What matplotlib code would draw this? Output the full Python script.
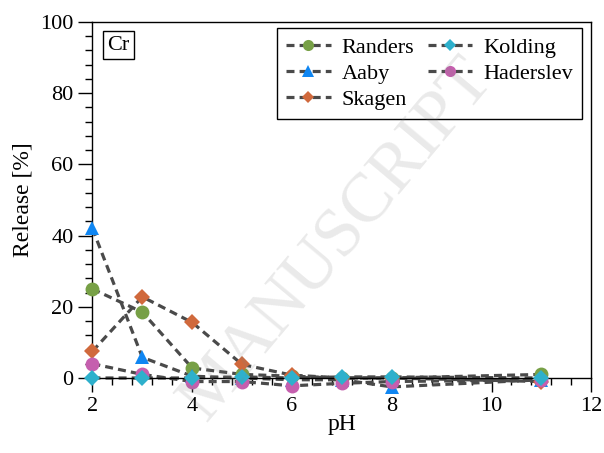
import numpy as np
import matplotlib
matplotlib.use("Agg")
import matplotlib.pyplot as plt
from matplotlib.lines import Line2D
from matplotlib.ticker import MultipleLocator

plt.rcParams['font.family'] = ['Liberation Serif', 'DejaVu Serif']
plt.rcParams['font.size'] = 14

ph = [2, 3, 4, 5, 6, 7, 8, 11]
randers = [25, 18.5, 2.8, 1.0, 0.5, 0.0, 0.0, 1.0]
aaby = [42, 5.8, 0.5, 0.0, -0.5, -0.5, -2.5, -0.5]
skagen = [7.5, 22.8, 15.6, 3.8, 0.8, 0.0, 0.0, -1.0]
kolding = [0.0, 0.0, 0.0, 0.3, 0.0, 0.3, 0.3, 0.0]
haderslev = [4.0, 1.0, -1.0, -1.0, -2.2, -1.5, -1.0, -0.5]

names = ["Randers", "Aaby", "Skagen", "Kolding", "Haderslev"]
series = [randers, aaby, skagen, kolding, haderslev]
colors = ["#77a046", "#0f86f2", "#d0693c", "#2eb0cc", "#c55fae"]
markers = ["o", "^", "D", "D", "o"]
msizes = [10, 10, 8, 8, 10]

fig = plt.figure(figsize=(6.04, 4.53), dpi=100)
ax = fig.add_axes([0.153, 0.1656, 0.826, 0.7858])

line_color = "#4a4a4a"
for ys in series:
    ax.plot(ph, ys, color=line_color, lw=2.3, dashes=(2.5, 1.6), zorder=2, clip_on=False)

# markers: Haderslev before Kolding so cyan sits on top
for i in [0, 1, 2, 4, 3]:
    ax.plot(ph, series[i], linestyle="none", marker=markers[i], ms=msizes[i],
            color=colors[i], markeredgewidth=0, zorder=3, clip_on=False)

handles = []
for i in range(5):
    handles.append(Line2D([], [], color=line_color, lw=2.3, dashes=(2.5, 1.6),
                          marker=markers[i], ms=msizes[i] * 0.8, mfc=colors[i],
                          mec=colors[i], mew=0))
leg = ax.legend(handles, names, ncol=2, loc="upper right", bbox_to_anchor=(0.981, 0.983),
                borderaxespad=0, fancybox=False, edgecolor="black", framealpha=1,
                fontsize=16, handlelength=2.0, labelspacing=0.25, columnspacing=0.6,
                handletextpad=0.5, borderpad=0.4)
leg.get_frame().set_linewidth(1.0)

ax.text(0.03, 0.962, "Cr", transform=ax.transAxes, fontsize=16, va="top", ha="left",
        bbox=dict(boxstyle="square,pad=0.2", fc="white", ec="black", lw=1))

ax.set_xlim(2, 12)
ax.set_ylim(0, 100)
ax.xaxis.set_major_locator(MultipleLocator(2))
ax.xaxis.set_minor_locator(MultipleLocator(0.4))
ax.yaxis.set_major_locator(MultipleLocator(20))
ax.yaxis.set_minor_locator(MultipleLocator(4))
ax.tick_params(which="major", direction="out", length=10, width=1, labelsize=16)
ax.tick_params(which="minor", direction="out", length=5, width=1)
ax.set_xlabel("pH", fontsize=17, labelpad=-1)
ax.set_ylabel("Release [%]", fontsize=17, labelpad=5)
for sp in ax.spines.values():
    sp.set_linewidth(1.0)

# faint manuscript watermark
fig.text(0.56, 0.47, "MANUSCRIPT", fontsize=50, color="#808080", alpha=0.17,
         rotation=50, ha="center", va="center", zorder=10)

fig.savefig("out.png", dpi=100)
